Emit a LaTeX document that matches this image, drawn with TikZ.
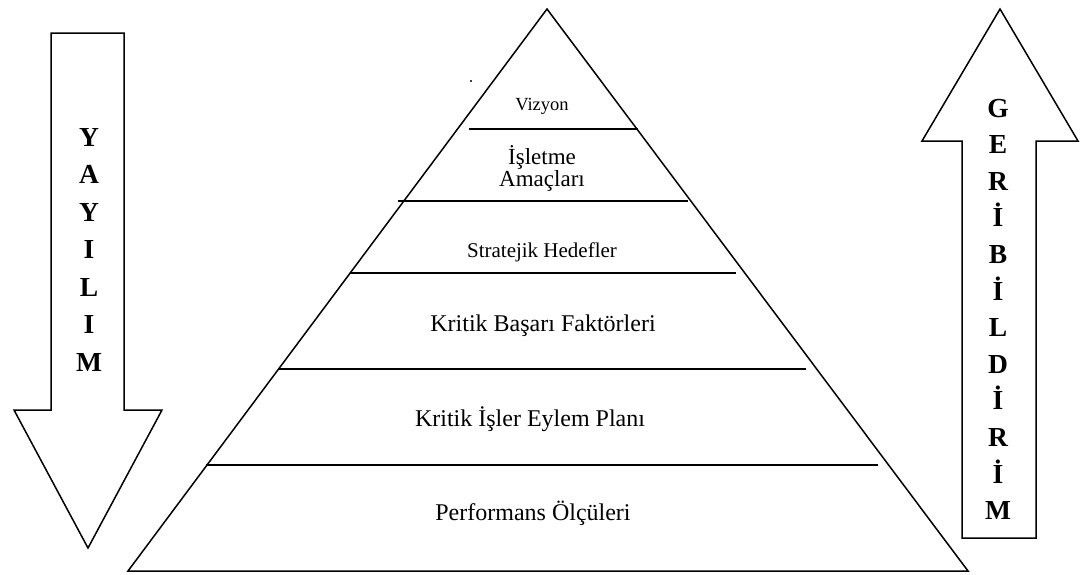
\documentclass[tikz,border=0pt]{standalone}
\usepackage{fontspec}
\setmainfont{Liberation Serif}
\begin{document}
\begin{tikzpicture}[x=1pt,y=-1pt,
  outline/.style={draw=black, line width=1.5pt, line join=miter},
  divider/.style={draw=black, line width=1.7pt},
  lbl/.style={inner sep=0pt, anchor=base, font=\fontsize{24}{26}\selectfont},
  letter/.style={inner sep=0pt, anchor=base, font=\fontsize{27.5}{30}\selectfont\bfseries}]
\useasboundingbox (0,0) rectangle (1084,574);

% ---- pyramid ----
\coordinate (apex) at (547,9);
\coordinate (baseL) at (128,571);
\coordinate (baseR) at (968,571);
\draw[outline] (apex) -- (baseL) -- (baseR) -- cycle;

% level separators
\coordinate (d1a) at (469,129); \coordinate (d1b) at (638,129);
\coordinate (d2a) at (398,201); \coordinate (d2b) at (688,201);
\coordinate (d3a) at (350,273); \coordinate (d3b) at (736,273);
\coordinate (d4a) at (278,369); \coordinate (d4b) at (806,369);
\coordinate (d5a) at (206,465); \coordinate (d5b) at (878,465);
\foreach \i in {1,...,5} \draw[divider] (d\i a) -- (d\i b);

% stray mark near the apex
\fill (471,81) circle (1.1);

% level labels
\node[lbl, font=\fontsize{18.5}{20}\selectfont] (vizyon) at (542,110) {Vizyon};
\node[lbl, font=\fontsize{23}{24}\selectfont] (amac1) at (542,164) {İşletme};
\node[lbl, font=\fontsize{23}{24}\selectfont] (amac2) at (542,186) {Amaçları};
\node[lbl, font=\fontsize{21}{23}\selectfont] (hedef) at (542,257) {Stratejik Hedefler};
\node[lbl] (kbf) at (543,331) {Kritik Başarı Faktörleri};
\node[lbl] (kiep) at (530,426) {Kritik İşler Eylem Planı};
\node[lbl] (perf) at (533,520) {Performans Ölçüleri};

% ---- downward arrow (left) ----
\draw[outline] (51,33) -- (124,33) -- (124,410) -- (162,410) -- (88,548)
  -- (14,410) -- (51,410) -- cycle;
\foreach \t [count=\k from 0] in {Y,A,Y,I,L,I,M}
  \node[letter] (yay\k) at (89,146+37.5*\k) {\t};

% ---- upward arrow (right) ----
\draw[outline] (1000,9) -- (1078,141) -- (1036,141) -- (1036,538)
  -- (962,538) -- (962,141) -- (922,141) -- cycle;
\foreach \t [count=\k from 0] in {G,E,R,İ,B,İ,L,D,İ,R,İ,M}
  \node[letter] (geri\k) at (998,117+36.6*\k) {\t};
\end{tikzpicture}
\end{document}
